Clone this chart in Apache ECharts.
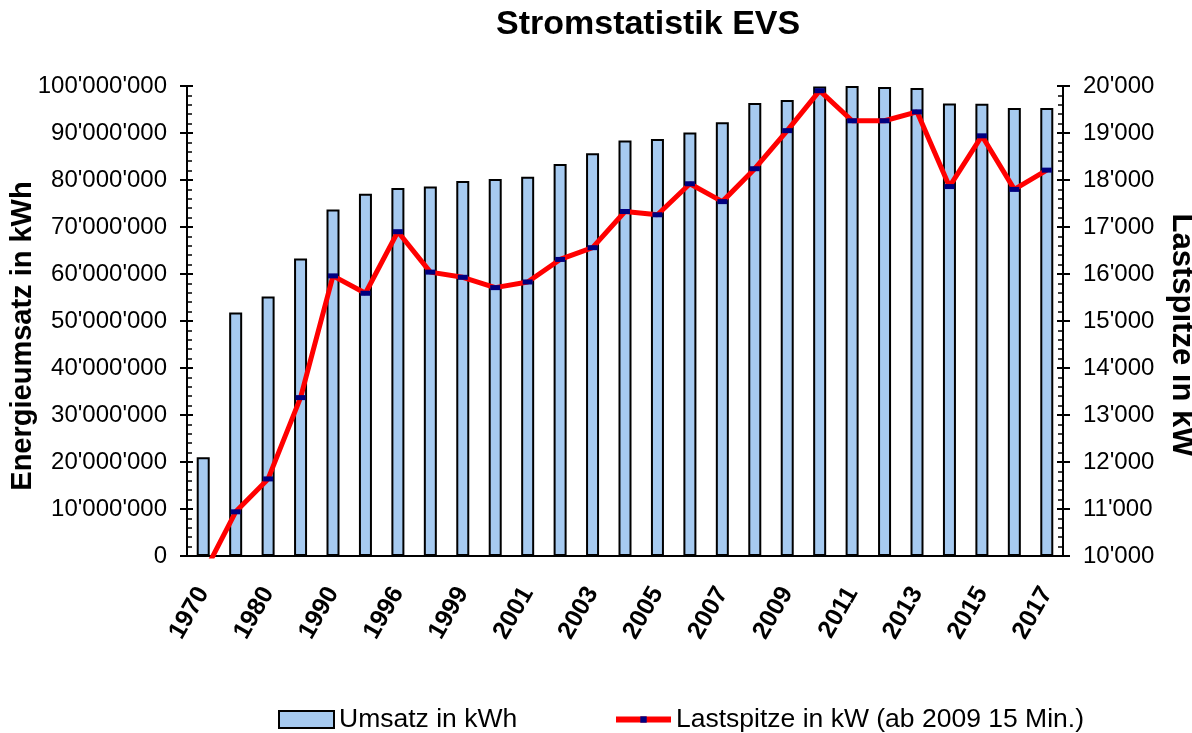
<!DOCTYPE html>
<html>
<head>
<meta charset="utf-8">
<script src="https://cdn.jsdelivr.net/npm/echarts@6/dist/echarts.min.js"></script>
<style>
  html, body { margin: 0; padding: 0; background: #fff; }
  #chart { width: 1192px; height: 733px; }
</style>
</head>
<body>
<div id="chart"></div>
<script>
// Jahre (nur jede zweite Beschriftung sichtbar)
const years = ['1970', '1975', '1980', '1985', '1990', '1995', '1996', '1997', '1999', '2000',
  '2001', '2002', '2003', '2004', '2005', '2006', '2007', '2008', '2009', '2010',
  '2011', '2012', '2013', '2014', '2015', '2016', '2017'];
// Energieumsatz in kWh
const umsatz = [21000000, 51800000, 55200000, 63300000, 73700000, 77100000, 78300000, 78600000, 79800000, 80200000,
  80700000, 83400000, 85700000, 88400000, 88700000, 90100000, 92300000, 96400000, 97000000, 99900000,
  100000000, 99800000, 99600000, 96300000, 96200000, 95300000, 95300000];
// Lastspitze in kW
const lastspitze = [9600, 10940, 11640, 13370, 15960, 15590, 16900, 16040, 15930, 15710,
  15830, 16310, 16560, 17330, 17260, 17920, 17540, 18240, 19050, 19900,
  19260, 19260, 19450, 17860, 18940, 17800, 18210];

const FONT = 'Liberation Sans, Arial, sans-serif';
const fmt = v => String(v).replace(/\B(?=(\d{3})+(?!\d))/g, "'");

let myChart = echarts.init(document.getElementById('chart'));
let option = {
  animation: false,
  backgroundColor: '#fff',
  title: {
    text: 'Stromstatistik EVS',
    left: 496,
    top: 8,
    padding: 0,
    textStyle: { fontFamily: FONT, fontSize: 34, fontWeight: 'bold', color: '#000' }
  },
  legend: [
    {
      left: 273,
      top: 701,
      itemWidth: 55,
      itemHeight: 17,
      textStyle: { fontFamily: FONT, fontSize: 26.5, color: '#000' },
      data: [{ name: 'Umsatz in kWh', icon: 'rect' }]
    },
    {
      left: 608,
      top: 701,
      itemWidth: 55,
      itemHeight: 8,
      textStyle: { fontFamily: FONT, fontSize: 26.5, color: '#000' },
      data: [{ name: 'Lastspitze in kW (ab 2009 15 Min.)', lineStyle: { width: 6 } }]
    }
  ],
  grid: { left: 187, right: 129, top: 86, bottom: 177, containLabel: false, outerBoundsMode: 'none' },
  xAxis: [
    {
      type: 'category',
      data: years,
      position: 'bottom',
      axisLine: { lineStyle: { color: '#000', width: 2 } },
      axisTick: { interval: 0, inside: true, length: 9, lineStyle: { color: '#000', width: 2 } },
      axisLabel: { show: false }
    },
    {
      type: 'category',
      data: years,
      position: 'bottom',
      axisLine: { show: false },
      axisTick: { interval: 0, length: 8, lineStyle: { color: '#000', width: 2 } },
      axisLabel: {
        interval: 1,
        rotate: 60,
        margin: 33,
        fontFamily: FONT,
        fontSize: 25,
        fontWeight: 'bold',
        color: '#000'
      }
    }
  ],
  yAxis: [
    {
      type: 'value',
      position: 'left',
      min: 0,
      max: 100000000,
      interval: 10000000,
      axisLine: { show: true, lineStyle: { color: '#000', width: 2 } },
      axisTick: { show: true, inside: true, length: 6, lineStyle: { color: '#000', width: 2 } },
      minorTick: { show: true, splitNumber: 5, length: 5, lineStyle: { color: '#000', width: 1.5 } },
      axisLabel: { show: false },
      splitLine: { show: false }
    },
    {
      type: 'value',
      position: 'right',
      min: 10000,
      max: 20000,
      interval: 1000,
      axisLine: { show: true, lineStyle: { color: '#000', width: 2 } },
      axisTick: { show: true, inside: true, length: 6, lineStyle: { color: '#000', width: 2 } },
      minorTick: { show: true, splitNumber: 5, length: 5, lineStyle: { color: '#000', width: 1.5 } },
      axisLabel: { show: false },
      splitLine: { show: false }
    },
    {
      type: 'value',
      position: 'left',
      min: 0,
      max: 100000000,
      interval: 10000000,
      name: 'Energieumsatz in kWh',
      nameLocation: 'middle',
      nameRotate: 90,
      nameGap: 150,
      nameMoveOverlap: false,
      nameTextStyle: { fontFamily: FONT, fontSize: 29, fontWeight: 'bold', color: '#000', padding: [0, 30, 0, 0] },
      axisLine: { show: false },
      axisTick: { show: true, length: 7, lineStyle: { color: '#000', width: 2 } },
      axisLabel: { margin: 20, fontFamily: FONT, fontSize: 24, color: '#000', formatter: fmt },
      splitLine: { show: false }
    },
    {
      type: 'value',
      position: 'right',
      min: 10000,
      max: 20000,
      interval: 1000,
      name: 'Lastspitze in kW',
      nameLocation: 'middle',
      nameRotate: -90,
      nameGap: 103,
      nameMoveOverlap: false,
      nameTextStyle: { fontFamily: FONT, fontSize: 31, fontWeight: 'bold', color: '#000', padding: [0, 0, 0, 28] },
      axisLine: { show: false },
      axisTick: { show: true, length: 7, lineStyle: { color: '#000', width: 2 } },
      axisLabel: { margin: 20, fontFamily: FONT, fontSize: 24, color: '#000', formatter: fmt },
      splitLine: { show: false }
    }
  ],
  series: [
    {
      name: 'Umsatz in kWh',
      type: 'bar',
      xAxisIndex: 0,
      yAxisIndex: 0,
      barWidth: 13,
      data: umsatz,
      itemStyle: { color: '#A6CAF0', borderColor: '#000', borderWidth: 2 },
      z: 2
    },
    {
      name: 'Lastspitze in kW (ab 2009 15 Min.)',
      type: 'line',
      xAxisIndex: 0,
      yAxisIndex: 1,
      data: lastspitze,
      clip: true,
      symbol: 'rect',
      symbolSize: [10, 5],
      showAllSymbol: true,
      lineStyle: { color: '#FF0000', width: 5 },
      itemStyle: { color: '#000080' },
      z: 3
    }
  ]
};
myChart.setOption(option);
</script>
</body>
</html>
